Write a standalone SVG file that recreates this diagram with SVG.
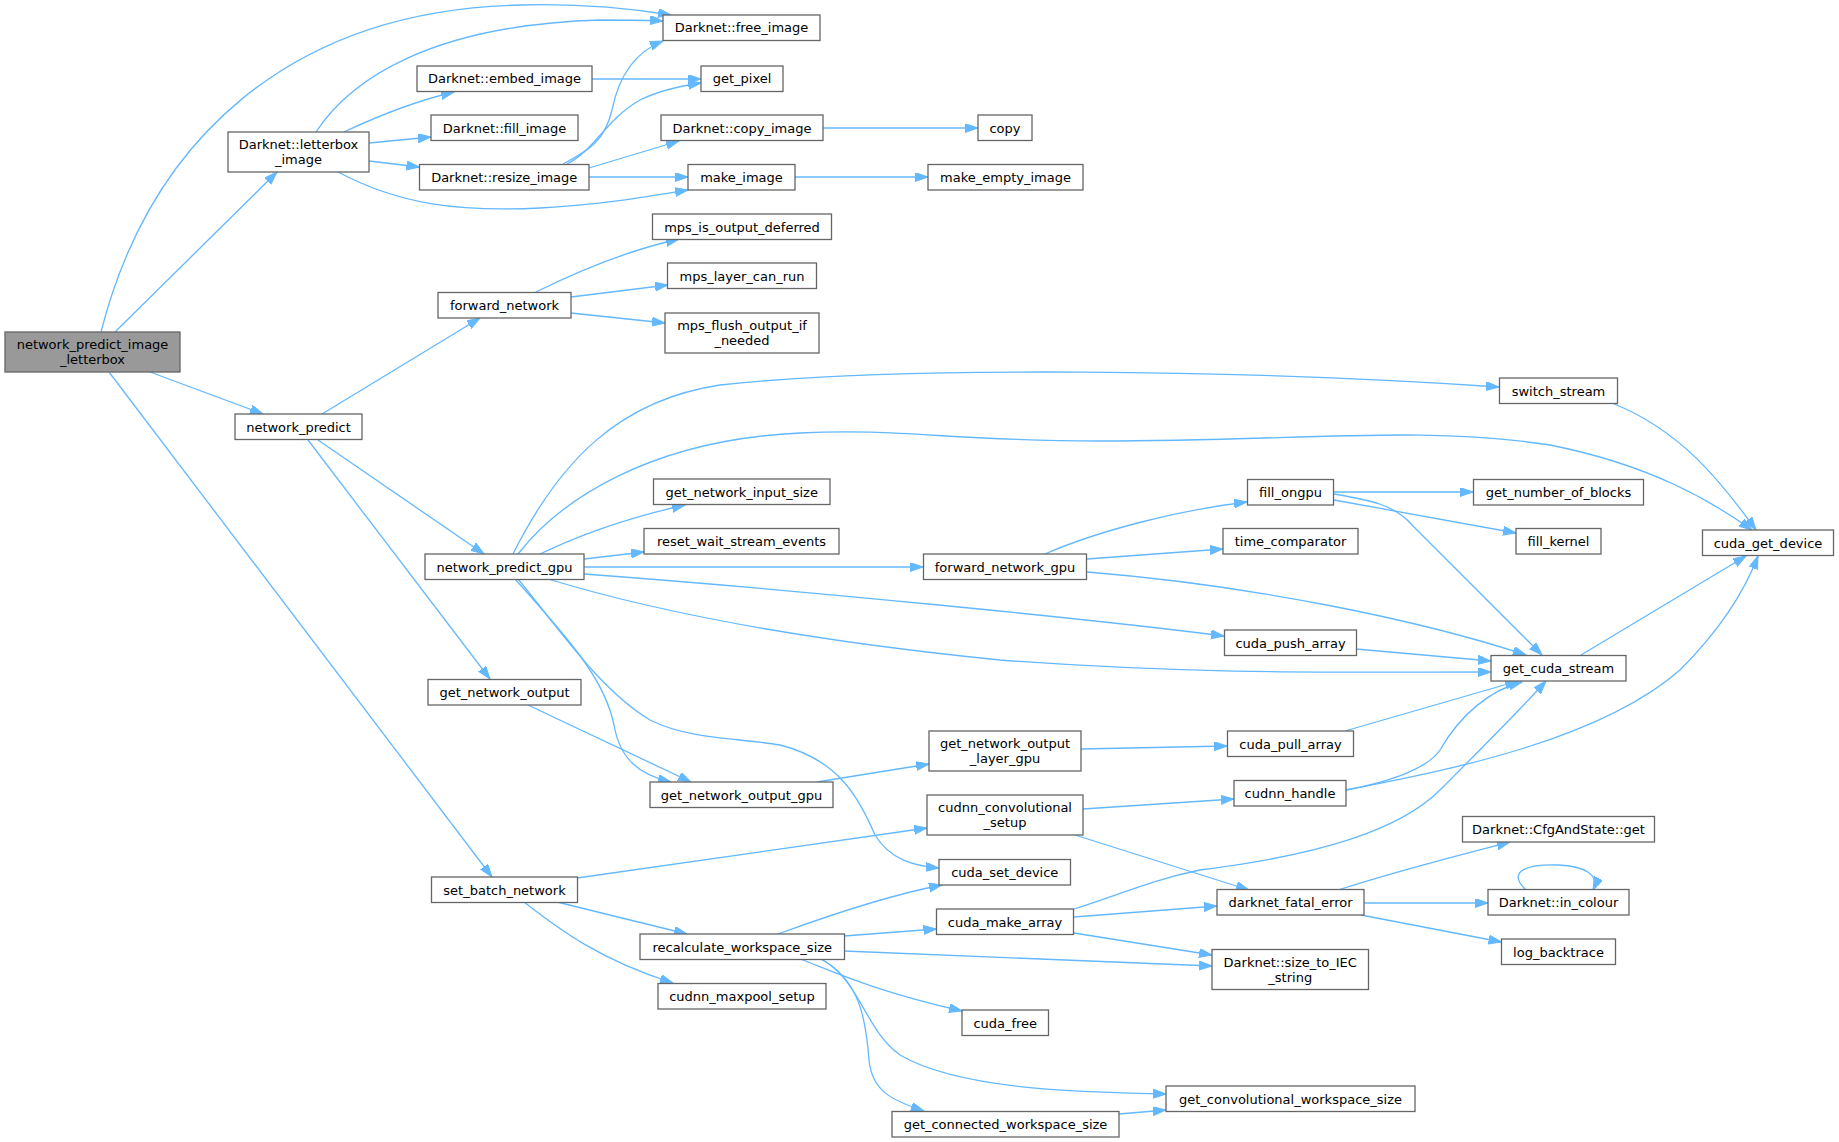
<svg xmlns="http://www.w3.org/2000/svg" width="1839" height="1142" viewBox="0 0 1839 1142">
<defs>
<marker id="ah" markerUnits="userSpaceOnUse" markerWidth="14" markerHeight="10" refX="13" refY="4.5" orient="auto">
<path d="M0,0 L13,4.5 L0,9 Z" fill="#63B8FF" stroke="#63B8FF" stroke-width="1"/>
</marker>
</defs>
<style>
rect{fill:#ffffff;stroke:#666666;stroke-width:1.3}
#n0 rect{fill:#999999}
text{font-family:"DejaVu Sans","Liberation Sans",sans-serif;font-size:13px;text-anchor:middle;fill:#000000}
#edges path{fill:none;stroke:#63B8FF;stroke-width:1.3;marker-end:url(#ah)}
</style>
<rect x="0" y="0" width="1839" height="1142" style="fill:#ffffff;stroke:none"/>
<g id="edges">
<path d="M101,332 C150,140 290,10 520,5 C590,3 640,10 671,15"/>
<path d="M316,132 C350,80 430,25 600,20 C630,20 650,20 663,21"/>
<path d="M344,132 C380,115 420,100 454,92"/>
<path d="M369,143 L431,137"/>
<path d="M369,161 L419.5,167"/>
<path d="M338,172 C400,205 460,212 540,208 C600,205 650,196 688,190"/>
<path d="M115,332 L277,172"/>
<path d="M592,79 L701,79"/>
<path d="M563,164 C590,150 605,140 612,110 C620,70 640,50 663,41"/>
<path d="M567,164 C595,150 605,120 640,100 C660,90 680,86 701,83"/>
<path d="M589,168 L679,141"/>
<path d="M589,177 L688,177"/>
<path d="M823,128 L978,128"/>
<path d="M795,177 L928,177"/>
<path d="M150,372 L263,414"/>
<path d="M322,414 L480,318"/>
<path d="M534,293 C580,270 630,250 679,239"/>
<path d="M571,297 L668,285"/>
<path d="M571,313 L665,323"/>
<path d="M318,440 L484,554"/>
<path d="M308,440 L490,679"/>
<path d="M109,372 L492,877"/>
<path d="M513,554 C560,460 620,400 720,385 C900,365 1250,370 1499,387"/>
<path d="M518,554 C560,500 650,440 800,433 C900,428 950,441 1100,441 C1300,441 1420,425 1550,445 C1650,465 1710,500 1752,530"/>
<path d="M540,554 C590,530 640,515 685,505"/>
<path d="M584,559 L644,552"/>
<path d="M584,567 L923,567"/>
<path d="M584,574 C800,590 1100,620 1224,636"/>
<path d="M548,579 C650,610 800,640 1000,660 C1200,675 1350,672 1491,672"/>
<path d="M515,579 C570,640 605,680 614,725 C620,760 640,775 671,782"/>
<path d="M518,579 C560,630 600,690 650,720 C690,740 740,738 780,745 C840,760 860,800 875,835 C890,860 915,866 939,868"/>
<path d="M528,705 L691,782"/>
<path d="M817,782 L929,764"/>
<path d="M1081,749 L1227,746"/>
<path d="M1045,554 C1100,530 1180,510 1247,502"/>
<path d="M1087,559 L1223,549"/>
<path d="M1087,572 C1250,585 1420,620 1526,655"/>
<path d="M1334,492 L1473,492"/>
<path d="M1334,500 L1516,533"/>
<path d="M1334,494 C1370,500 1395,505 1412,525 L1542,655"/>
<path d="M1612,403 C1680,430 1720,480 1756,530"/>
<path d="M1356,649 L1491,661"/>
<path d="M1581,655 L1746,556"/>
<path d="M1345,731 L1518,681"/>
<path d="M1346,790 C1400,780 1430,765 1440,750 C1460,715 1490,690 1522,682"/>
<path d="M1346,790 C1450,770 1600,740 1680,670 C1720,630 1745,590 1758,556"/>
<path d="M1074,909 C1120,895 1150,880 1200,870 C1320,855 1400,830 1440,790 C1480,750 1520,710 1546,681"/>
<path d="M1083,809 L1234,799"/>
<path d="M1075,835 L1249,890"/>
<path d="M577,878 L927,828"/>
<path d="M557,902 L687,934"/>
<path d="M524,902 C560,930 600,960 673,983"/>
<path d="M778,934 C830,915 890,895 942,885"/>
<path d="M844,936 L936.5,929"/>
<path d="M844,951 L1212,966"/>
<path d="M800,959 C830,970 870,990 962,1011"/>
<path d="M821,959 C860,980 865,1030 900,1055 C960,1090 1080,1092 1166,1094"/>
<path d="M821,959 C860,980 866,1020 869,1060 C872,1090 890,1100 924,1111"/>
<path d="M1119,1114 L1166,1110"/>
<path d="M1074,917 L1217,906"/>
<path d="M1074,933 L1212,955"/>
<path d="M1338,890 C1400,870 1460,855 1510,842"/>
<path d="M1364,903 L1488,903"/>
<path d="M1361,915 L1501.5,942"/>
<path d="M1526,890 C1505,870 1530,864 1558,865 C1585,866 1600,875 1593,890"/>
</g>
<g id="n0"><rect x="5" y="332" width="175" height="40"/><text x="92.5" y="349">network_predict_image</text><text x="92.5" y="364">_letterbox</text></g>
<g id="n1"><rect x="228" y="132" width="141" height="40"/><text x="298.5" y="149">Darknet::letterbox</text><text x="298.5" y="164">_image</text></g>
<g id="n2"><rect x="417" y="66" width="175" height="25.5"/><text x="504.5" y="83">Darknet::embed_image</text></g>
<g id="n3"><rect x="431" y="115" width="147" height="25.5"/><text x="504.5" y="132.5">Darknet::fill_image</text></g>
<g id="n4"><rect x="419.5" y="164.5" width="169.5" height="25.5"/><text x="504.25" y="182">Darknet::resize_image</text></g>
<g id="n5"><rect x="438" y="292.5" width="133" height="25.5"/><text x="504.5" y="310">forward_network</text></g>
<g id="n6"><rect x="663" y="15" width="157" height="25.5"/><text x="741.5" y="32">Darknet::free_image</text></g>
<g id="n7"><rect x="701" y="66" width="82" height="25.5"/><text x="742" y="83">get_pixel</text></g>
<g id="n8"><rect x="661" y="115" width="162" height="25.5"/><text x="742" y="132.5">Darknet::copy_image</text></g>
<g id="n9"><rect x="978" y="115" width="54" height="25.5"/><text x="1005" y="132.5">copy</text></g>
<g id="n10"><rect x="688" y="164.5" width="107" height="25.5"/><text x="741.5" y="182">make_image</text></g>
<g id="n11"><rect x="928" y="164.5" width="155" height="25.5"/><text x="1005.5" y="182">make_empty_image</text></g>
<g id="n12"><rect x="652.5" y="214" width="179" height="25.5"/><text x="742" y="231.5">mps_is_output_deferred</text></g>
<g id="n13"><rect x="667.5" y="263" width="149" height="25.5"/><text x="742" y="280.5">mps_layer_can_run</text></g>
<g id="n14"><rect x="665" y="313" width="154" height="40"/><text x="742" y="330">mps_flush_output_if</text><text x="742" y="345">_needed</text></g>
<g id="n15"><rect x="235" y="414" width="127" height="25.5"/><text x="298.5" y="431.5">network_predict</text></g>
<g id="n16"><rect x="425" y="554" width="159" height="25.5"/><text x="504.5" y="571.5">network_predict_gpu</text></g>
<g id="n17"><rect x="428" y="679.5" width="153" height="25.5"/><text x="504.5" y="697">get_network_output</text></g>
<g id="n18"><rect x="431.5" y="877" width="146" height="25.5"/><text x="504.5" y="894.5">set_batch_network</text></g>
<g id="n19"><rect x="653.5" y="479" width="176.5" height="25.5"/><text x="741.75" y="496.5">get_network_input_size</text></g>
<g id="n20"><rect x="644" y="528.5" width="195" height="25.5"/><text x="741.5" y="546">reset_wait_stream_events</text></g>
<g id="n21"><rect x="923.5" y="554" width="163" height="25.5"/><text x="1005" y="571.5">forward_network_gpu</text></g>
<g id="n22"><rect x="929" y="731" width="152" height="40"/><text x="1005" y="748">get_network_output</text><text x="1005" y="763">_layer_gpu</text></g>
<g id="n23"><rect x="650" y="782" width="183" height="25.5"/><text x="741.5" y="799.5">get_network_output_gpu</text></g>
<g id="n24"><rect x="927" y="795" width="156" height="40"/><text x="1005" y="812">cudnn_convolutional</text><text x="1005" y="827">_setup</text></g>
<g id="n25"><rect x="939" y="859.5" width="131.5" height="25.5"/><text x="1004.75" y="877">cuda_set_device</text></g>
<g id="n26"><rect x="936.5" y="909" width="137" height="25.5"/><text x="1005" y="926.5">cuda_make_array</text></g>
<g id="n27"><rect x="640" y="934" width="204.5" height="25.5"/><text x="742.25" y="951.5">recalculate_workspace_size</text></g>
<g id="n28"><rect x="658" y="983.5" width="168" height="25.5"/><text x="742" y="1001">cudnn_maxpool_setup</text></g>
<g id="n29"><rect x="962" y="1010" width="86.5" height="25.5"/><text x="1005.25" y="1027.5">cuda_free</text></g>
<g id="n30"><rect x="892" y="1111.5" width="227" height="25.5"/><text x="1005.5" y="1129">get_connected_workspace_size</text></g>
<g id="n31"><rect x="1166" y="1086" width="249" height="25.5"/><text x="1290.5" y="1103.5">get_convolutional_workspace_size</text></g>
<g id="n32"><rect x="1499.5" y="378" width="118" height="25.5"/><text x="1558.5" y="395.5">switch_stream</text></g>
<g id="n33"><rect x="1247.5" y="479.5" width="86" height="25.5"/><text x="1290.5" y="497">fill_ongpu</text></g>
<g id="n34"><rect x="1473.5" y="479.5" width="170" height="25.5"/><text x="1558.5" y="497">get_number_of_blocks</text></g>
<g id="n35"><rect x="1223" y="528.5" width="135" height="25.5"/><text x="1290.5" y="546">time_comparator</text></g>
<g id="n36"><rect x="1516" y="528.5" width="85" height="25.5"/><text x="1558.5" y="546">fill_kernel</text></g>
<g id="n37"><rect x="1702.5" y="530" width="131" height="25.5"/><text x="1768" y="547.5">cuda_get_device</text></g>
<g id="n38"><rect x="1224.5" y="630" width="132" height="25.5"/><text x="1290.5" y="647.5">cuda_push_array</text></g>
<g id="n39"><rect x="1491" y="655.5" width="135" height="25.5"/><text x="1558.5" y="673">get_cuda_stream</text></g>
<g id="n40"><rect x="1227.5" y="731" width="126" height="25.5"/><text x="1290.5" y="748.5">cuda_pull_array</text></g>
<g id="n41"><rect x="1234" y="780.5" width="112" height="25.5"/><text x="1290" y="798">cudnn_handle</text></g>
<g id="n42"><rect x="1462.5" y="816.5" width="192" height="25.5"/><text x="1558.5" y="834">Darknet::CfgAndState::get</text></g>
<g id="n43"><rect x="1217" y="889.5" width="147" height="25.5"/><text x="1290.5" y="907">darknet_fatal_error</text></g>
<g id="n44"><rect x="1488" y="889.5" width="141" height="25.5"/><text x="1558.5" y="907">Darknet::in_colour</text></g>
<g id="n45"><rect x="1501.5" y="939" width="114" height="25.5"/><text x="1558.5" y="956.5">log_backtrace</text></g>
<g id="n46"><rect x="1212" y="949.5" width="156.5" height="40"/><text x="1290.25" y="966.5">Darknet::size_to_IEC</text><text x="1290.25" y="981.5">_string</text></g>
</svg>
